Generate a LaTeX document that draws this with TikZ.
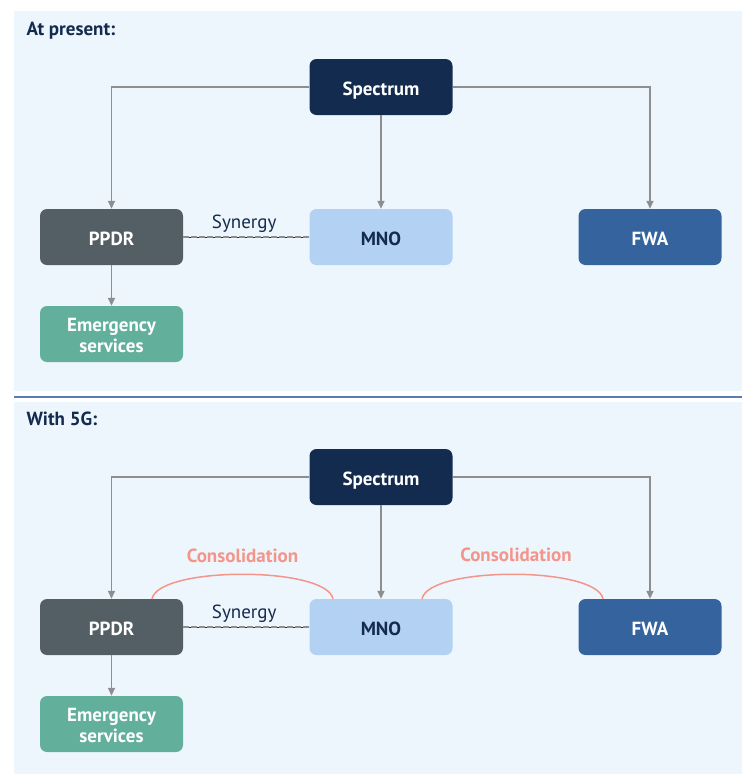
\documentclass[tikz,border=0pt]{standalone}
\usepackage{fontspec}
\setmainfont{PT Sans}
\usetikzlibrary{arrows.meta}
\definecolor{panelbg}{HTML}{EEF6FD}
\definecolor{navy}{HTML}{132B4E}
\definecolor{slate}{HTML}{535F65}
\definecolor{teal}{HTML}{62AF9C}
\definecolor{pale}{HTML}{B3D1F2}
\definecolor{steel}{HTML}{34639E}
\definecolor{wire}{HTML}{8E8E8E}
\definecolor{salmon}{HTML}{F4958A}
\definecolor{rule}{HTML}{5A7CB4}
\tikzset{
  box/.style={rounded corners=7pt, minimum width=143pt, minimum height=56pt,
    inner sep=0pt, font=\bfseries\fontsize{19}{21}\selectfont, align=center,
    text height=17pt, text depth=0pt},
  spec/.style={box, fill=navy, text=white},
  ppdr/.style={box, fill=slate, text=white},
  emerg/.style={box, fill=teal, text=white, text height=37pt},
  mno/.style={box, fill=pale, text=navy},
  fwa/.style={box, fill=steel, text=white},
  feed/.style={draw=wire, line width=1.5pt, -{Triangle[length=8pt,width=7pt]}},
  heading/.style={anchor=base west, text=navy, font=\bfseries\fontsize{19}{21}\selectfont},
  linklabel/.style={text=navy, font=\fontsize{19}{21}\selectfont},
  consol/.style={draw=salmon, line width=1.5pt},
  consollabel/.style={text=salmon, font=\bfseries\fontsize{19}{21}\selectfont},
}
\begin{document}
\begin{tikzpicture}[x=1pt, y=-1pt]
\useasboundingbox (0,0) rectangle (742,774);
\fill[white] (0,0) rectangle (742,774);
% two panels and the separating rule
\fill[panelbg] (14,11) rectangle (742,391);
\fill[panelbg] (14,402) rectangle (742,774);
\draw[rule, line width=2pt] (14,396.5) -- (742,396.5);

\foreach \dy/\title/\tag in {0/At present:/a, 390/With 5G:/b} {
  \node[heading] (title\tag) at (23,35+\dy) {\title};
  \node[spec]  (spectrum\tag) at (381,87+\dy)  {Spectrum};
  \node[ppdr]  (ppdr\tag)     at (111.5,237+\dy) {PPDR};
  \node[emerg] (emerg\tag)    at (111.5,334+\dy) {Emergency\\services};
  \node[mno]   (mno\tag)      at (381,237+\dy) {MNO};
  \node[fwa]   (fwa\tag)      at (650,237+\dy) {FWA};
  \draw[feed] (spectrum\tag.west) -| (ppdr\tag.north);
  \draw[feed] (spectrum\tag.east) -| (fwa\tag.north);
  \draw[feed] (spectrum\tag.south) -- (mno\tag.north);
  \draw[feed] (ppdr\tag.south) -- (emerg\tag.north);
  % synergy link: navy line under grey dashes
  \draw[navy, line width=1pt] (ppdr\tag.east) -- (mno\tag.west);
  \draw[wire, line width=1.5pt, dash pattern=on 6pt off 2pt] (ppdr\tag.east) -- (mno\tag.west)
    node[linklabel, midway, above=0pt, xshift=-2pt] (syn\tag) {Synergy};
}

% consolidation arcs in the 5G panel
\coordinate (cl1) at (152,599);
\coordinate (cl2) at (333,599);
\coordinate (cr1) at (422,599);
\coordinate (cr2) at (603,599);
\draw[consol] (cl1) .. controls (158,566) and (327,566) .. (cl2);
\draw[consol] (cr1) .. controls (428,566) and (597,566) .. (cr2);
\node[consollabel] (consl) at (242.5,556) {Consolidation};
\node[consollabel] (consr) at (516,555) {Consolidation};
\end{tikzpicture}
\end{document}
